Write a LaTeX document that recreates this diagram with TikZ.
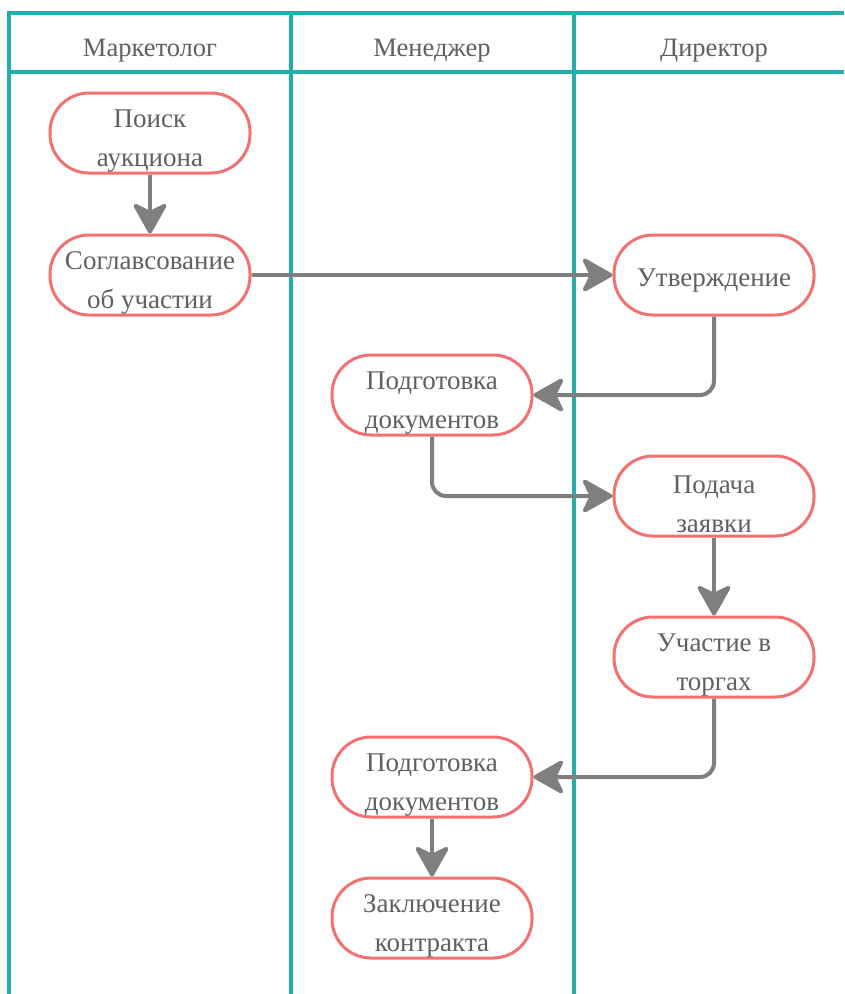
\documentclass[tikz,border=0pt]{standalone}
\usepackage{fontspec}
\setmainfont{Liberation Serif}
\usetikzlibrary{arrows.meta}
\definecolor{lane}{HTML}{22AFAA}
\definecolor{boxline}{HTML}{F27171}
\definecolor{txt}{HTML}{606060}
\definecolor{arr}{HTML}{7F7F7F}
\tikzset{
  stepbox/.style={draw=boxline, line width=3pt, fill=white, rounded corners=39pt,
    minimum width=200pt, minimum height=80pt, inner sep=0pt},
  steptext/.style={align=center, inner sep=0pt, text=txt,
    font=\fontsize{27}{39}\selectfont},
  lanehead/.style={text=txt, font=\fontsize{26.5}{30}\selectfont},
  laneline/.style={draw=lane, line width=3.5pt},
  flow/.style={draw=arr, line width=4pt, rounded corners=14pt,
    -{Stealth[length=34pt, width=38pt, inset=9pt, round]}},
}
\begin{document}
\begin{tikzpicture}[x=1pt, y=1pt]
\useasboundingbox (0,0) rectangle (844,-994);
\fill[white] (0,0) rectangle (844,-994);
% lanes
\draw[laneline] (9,-13) -- (844,-13);
\draw[laneline] (9,-72) -- (844,-72);
\draw[laneline] (9,-11) -- (9,-994);
\draw[laneline] (291,-11) -- (291,-994);
\draw[laneline] (574,-11) -- (574,-994);
\node[lanehead] (h1) at (150,-51) {Маркетолог};
\node[lanehead] (h2) at (432,-51) {Менеджер};
\node[lanehead] (h3) at (714,-51) {Директор};
% nodes
\node[stepbox] (n1) at (150,-133) {};
\node[stepbox] (n2) at (150,-275) {};
\node[stepbox] (n3) at (714,-275) {};
\node[stepbox] (n4) at (432,-395) {};
\node[stepbox] (n5) at (714,-496) {};
\node[stepbox] (n6) at (714,-657) {};
\node[stepbox] (n7) at (432,-777) {};
\node[stepbox] (n8) at (432,-918) {};
\node[steptext] (t1) at ([yshift=-8pt]n1.center) {Поиск\\аукциона};
\node[steptext] (t2) at ([yshift=-8pt]n2.center) {Соглавсование\\об участии};
\node[steptext] (t3) at ([yshift=-6pt]n3.center) {Утверждение};
\node[steptext] (t4) at ([yshift=-8pt]n4.center) {Подготовка\\документов};
\node[steptext] (t5) at ([yshift=-8pt]n5.center) {Подача\\заявки};
\node[steptext] (t6) at ([yshift=-8pt]n6.center) {Участие в\\торгах};
\node[steptext] (t7) at ([yshift=-8pt]n7.center) {Подготовка\\документов};
\node[steptext] (t8) at ([yshift=-8pt]n8.center) {Заключение\\контракта};
% connectors
\draw[flow] (n1) -- (n2);
\draw[flow] (n2) -- (n3);
\draw[flow] (n3.south) |- (n4.east);
\draw[flow] (n4.south) |- (n5.west);
\draw[flow] (n5) -- (n6);
\draw[flow] (n6.south) |- (n7.east);
\draw[flow] (n7) -- (n8);
\end{tikzpicture}
\end{document}
